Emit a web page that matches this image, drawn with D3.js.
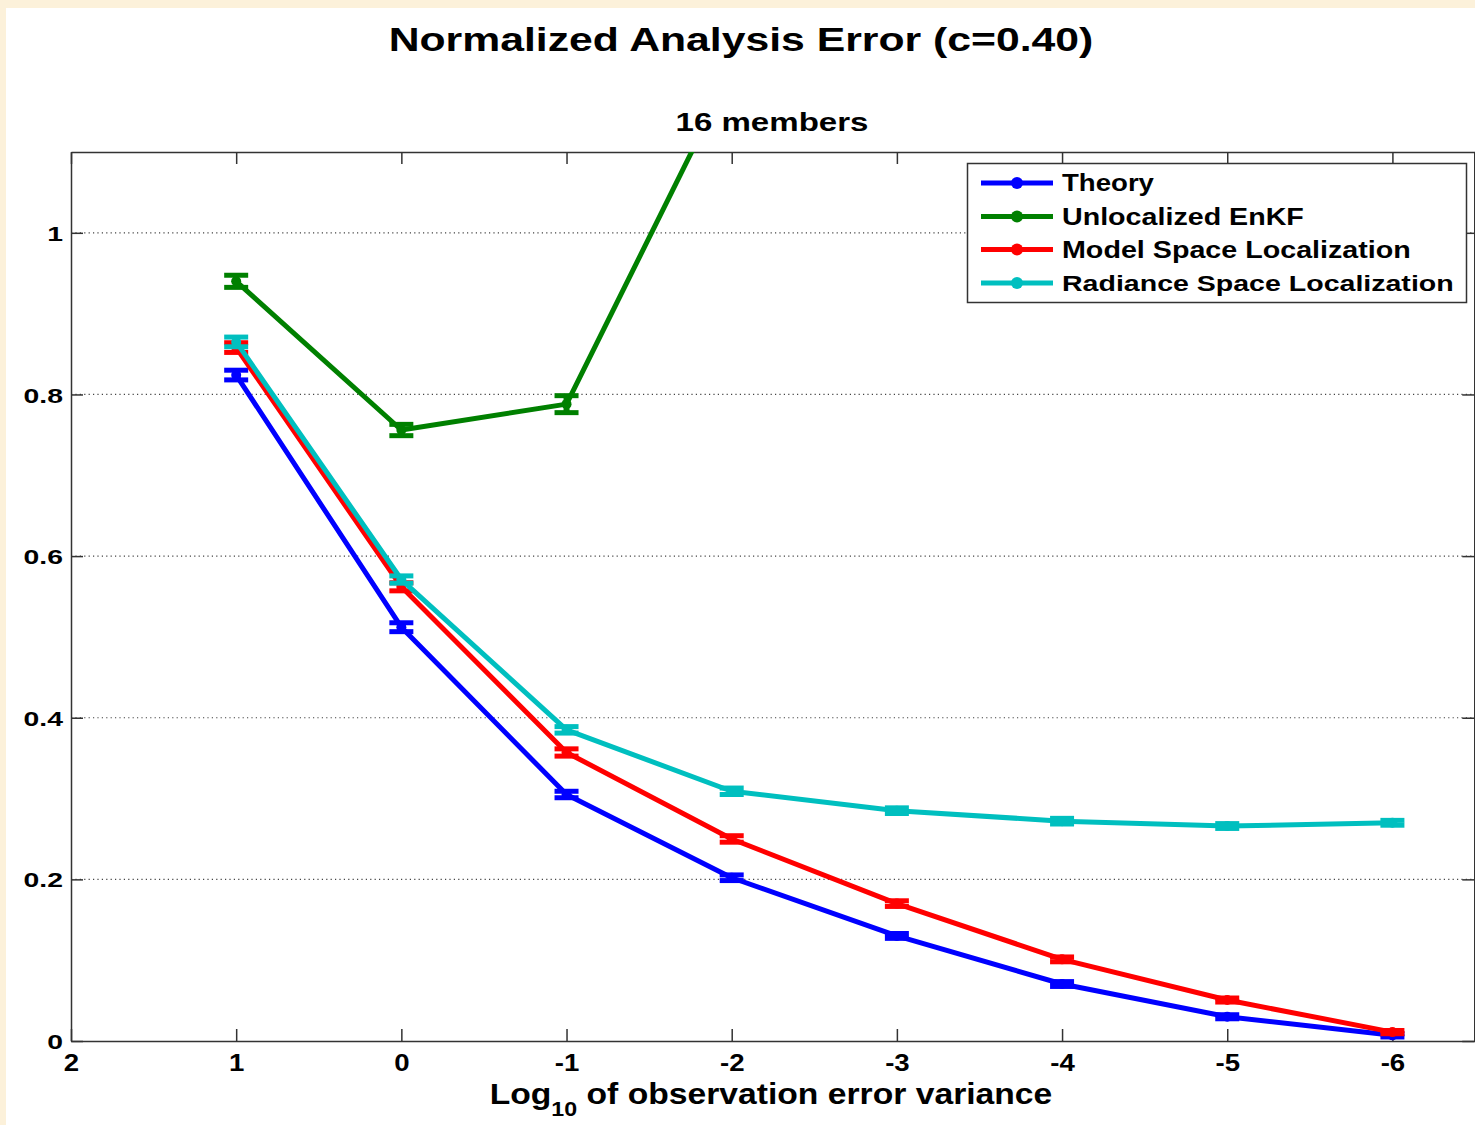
<!DOCTYPE html>
<html>
<head>
<meta charset="utf-8">
<script src="https://cdn.jsdelivr.net/npm/d3@7"></script>
<style>
  html, body { margin: 0; padding: 0; background: #fcf1da; }
  svg { display: block; }
  text { font-family: "Liberation Sans", Arial, Helvetica, sans-serif; font-weight: bold; fill: #000; }
</style>
</head>
<body>
<svg id="chart" width="1475" height="1125"></svg>
<script>
// log10 of observation error variance
const logVar = [1, 0, -1, -2, -3, -4, -5, -6];
const logVarUnloc = [1, 0, -1, -2];

// normalized analysis error per method
const theory      = [0.824, 0.512, 0.305, 0.202, 0.130, 0.0705, 0.030, 0.007];
const theoryErr   = [0.006, 0.0055, 0.004, 0.0035, 0.003, 0.003, 0.0025, 0.002];
const unlocalized    = [0.940, 0.756, 0.788, 1.20];
const unlocalizedErr = [0.0075, 0.007, 0.0105, 0.012];
const modelSpace    = [0.858, 0.562, 0.357, 0.250, 0.170, 0.101, 0.0507, 0.011];
const modelSpaceErr = [0.006, 0.005, 0.0045, 0.004, 0.0035, 0.003, 0.0025, 0.002];
const radianceSpace    = [0.865, 0.571, 0.385, 0.309, 0.285, 0.272, 0.266, 0.270];
const radianceSpaceErr = [0.006, 0.0045, 0.004, 0.004, 0.0035, 0.0035, 0.003, 0.003];

const seriesNames = ["Theory", "Unlocalized EnKF", "Model Space Localization", "Radiance Space Localization"];
const seriesColors = ["#0000ff", "#008000", "#ff0000", "#00bfbf"];

const xTicks = [2, 1, 0, -1, -2, -3, -4, -5, -6];
const xTickLabels = ["2", "1", "0", "-1", "-2", "-3", "-4", "-5", "-6"];
const yTicks = [0, 0.2, 0.4, 0.6, 0.8, 1];
const yTickLabels = ["0", "0.2", "0.4", "0.6", "0.8", "1"];

const titleText = "Normalized Analysis Error (c=0.40)";
const subtitleText = "16 members";

const series = [
  { name: seriesNames[0], color: seriesColors[0], xs: logVar, ys: theory, err: theoryErr },
  { name: seriesNames[1], color: seriesColors[1], xs: logVarUnloc, ys: unlocalized, err: unlocalizedErr },
  { name: seriesNames[2], color: seriesColors[2], xs: logVar, ys: modelSpace, err: modelSpaceErr },
  { name: seriesNames[3], color: seriesColors[3], xs: logVar, ys: radianceSpace, err: radianceSpaceErr }
];

const W = 1475, H = 1125;
const plotL = 71, plotR = 1475, plotT = 152, plotB = 1041;
const svg = d3.select("#chart");

// page: cream frame with a white panel
svg.append("rect").attr("width", W).attr("height", H).attr("fill", "#fcf1da");
svg.append("rect").attr("x", 6).attr("y", 8).attr("width", W - 6).attr("height", H - 8).attr("fill", "#ffffff");

const x = d3.scaleLinear().domain([2, -6.5]).range([plotL, plotR]);
const y = d3.scaleLinear().domain([0, 1.1]).range([plotB, plotT]);

// stretch a text element horizontally about an anchor x
function stretch(node, k, ax) {
  d3.select(node).attr("transform", `translate(${ax},0) scale(${k},1) translate(${-ax},0)`);
}
function fitWidth(sel, target, ax) {
  const w = sel.node().getComputedTextLength();
  stretch(sel.node(), target / w, ax);
}

// horizontal dotted grid
svg.append("g").selectAll("line")
  .data(yTicks.filter(d => d > 0))
  .join("line")
  .attr("x1", plotL).attr("x2", plotR)
  .attr("y1", d => y(d)).attr("y2", d => y(d))
  .attr("stroke", "#444").attr("stroke-width", 1.2)
  .attr("stroke-dasharray", "1.2,3.2");

// axes with inward ticks
const axisColor = "#333";
const tickLen = 12;
const gBottom = svg.append("g").attr("transform", `translate(0,${plotB})`)
  .call(d3.axisBottom(x).tickValues(xTicks).tickFormat((d, i) => xTickLabels[i])
    .tickSizeInner(-tickLen).tickSizeOuter(0).tickPadding(14));
const gLeft = svg.append("g").attr("transform", `translate(${plotL},0)`)
  .call(d3.axisLeft(y).tickValues(yTicks).tickFormat((d, i) => yTickLabels[i])
    .tickSizeInner(-tickLen).tickSizeOuter(0).tickPadding(8));
const gTop = svg.append("g").attr("transform", `translate(0,${plotT})`)
  .call(d3.axisTop(x).tickValues(xTicks).tickFormat("").tickSizeInner(-tickLen).tickSizeOuter(0));
const gRight = svg.append("g").attr("transform", `translate(${plotR - 0.75},0)`)
  .call(d3.axisRight(y).tickValues(yTicks).tickFormat("").tickSizeInner(-tickLen).tickSizeOuter(0));

[gBottom, gLeft, gTop, gRight].forEach(g => {
  g.attr("font-family", null).attr("font-size", null);
  g.select(".domain").attr("stroke", axisColor).attr("stroke-width", 1.5);
  g.selectAll(".tick line").attr("stroke", axisColor).attr("stroke-width", 1.5);
  g.selectAll("text").attr("fill", "#000");
});
gBottom.selectAll(".tick text").style("font-size", "23px").attr("dy", "0.71em")
  .each(function () { stretch(this, 1.2, 0); });
gLeft.selectAll(".tick text").style("font-size", "21px").attr("x", 0).attr("dy", "0.36em")
  .each(function () { d3.select(this).attr("transform", "translate(-8,0) scale(1.35,1)"); });

// data area clip
svg.append("clipPath").attr("id", "plotClip")
  .append("rect").attr("x", plotL).attr("y", plotT).attr("width", plotR - plotL).attr("height", plotB - plotT);
const plot = svg.append("g").attr("clip-path", "url(#plotClip)");

const line = d3.line().x(d => x(d[0])).y(d => y(d[1]));
const capHalf = 12;
const lw = 5;

series.forEach(s => {
  const pts = s.xs.map((xv, i) => [xv, s.ys[i], s.err[i]]);
  const g = plot.append("g");
  g.append("path").datum(pts).attr("d", line)
    .attr("fill", "none").attr("stroke", s.color).attr("stroke-width", lw)
    .attr("stroke-linejoin", "round");
  // error bars
  const eb = g.selectAll(".eb").data(pts).join("g");
  eb.append("line")
    .attr("x1", d => x(d[0])).attr("x2", d => x(d[0]))
    .attr("y1", d => y(d[1] - d[2])).attr("y2", d => y(d[1] + d[2]))
    .attr("stroke", s.color).attr("stroke-width", lw + 1);
  [-1, 1].forEach(sg => {
    eb.append("line")
      .attr("x1", d => x(d[0]) - capHalf).attr("x2", d => x(d[0]) + capHalf)
      .attr("y1", d => y(d[1] + sg * d[2])).attr("y2", d => y(d[1] + sg * d[2]))
      .attr("stroke", s.color).attr("stroke-width", lw);
  });
  g.selectAll("circle").data(pts).join("circle")
    .attr("cx", d => x(d[0])).attr("cy", d => y(d[1])).attr("r", 5)
    .attr("fill", s.color);
});

// titles
const title = svg.append("text").attr("x", 741).attr("y", 51).attr("text-anchor", "middle")
  .style("font-size", "33px").text(titleText);
fitWidth(title, 705, 741);
const sub = svg.append("text").attr("x", 772).attr("y", 131).attr("text-anchor", "middle")
  .style("font-size", "26px").text(subtitleText);
fitWidth(sub, 193, 772);

// x axis label with subscript
const xl = svg.append("text").attr("x", 771).attr("y", 1104).attr("text-anchor", "middle")
  .style("font-size", "29px");
xl.append("tspan").text("Log");
xl.append("tspan").attr("dy", 12).style("font-size", "20px").text("10");
xl.append("tspan").attr("dy", -12).text(" of observation error variance");
fitWidth(xl, 563, 771);

// legend
const legendWidths = [92, 242, 349, 392];
const lg = svg.append("g");
lg.append("rect").attr("x", 967.5).attr("y", 163.5).attr("width", 499).attr("height", 139)
  .attr("fill", "#fff").attr("stroke", "#333").attr("stroke-width", 1.5);
const rowY = [183, 216.5, 249.5, 283];
series.forEach((s, i) => {
  const cy = rowY[i];
  lg.append("line").attr("x1", 981).attr("x2", 1053).attr("y1", cy).attr("y2", cy)
    .attr("stroke", s.color).attr("stroke-width", lw);
  lg.append("circle").attr("cx", 1017).attr("cy", cy).attr("r", 6).attr("fill", s.color);
  const t = lg.append("text").attr("x", 1062).attr("y", cy + 8.5).style("font-size", "23px").text(s.name);
  fitWidth(t, legendWidths[i], 1062);
});
</script>
</body>
</html>
